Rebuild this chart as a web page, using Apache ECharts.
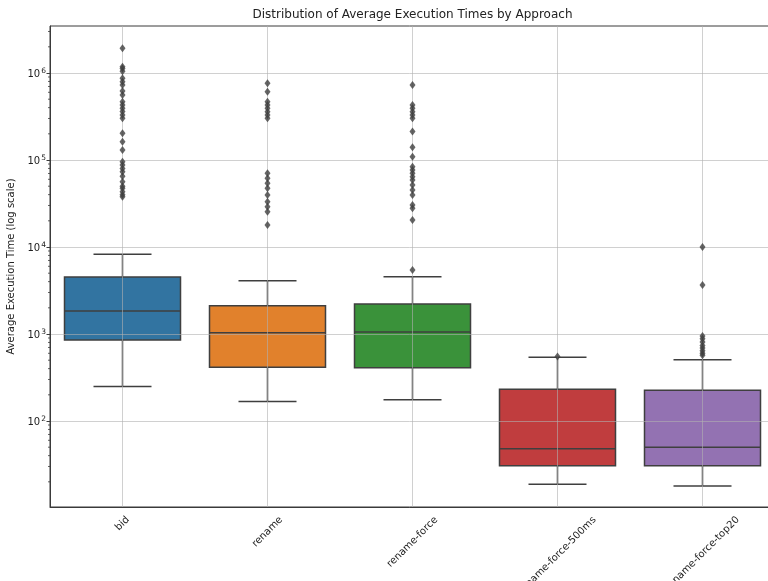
<!DOCTYPE html>
<html><head><meta charset="utf-8">
<script src="https://cdn.jsdelivr.net/npm/echarts@6/dist/echarts.min.js"></script>
<style>html,body{margin:0;padding:0;background:#fff}#c{width:768px;height:581px}</style>
</head><body><div id="c"></div>
<script>
// ---- data ----
const categories = ['bid', 'rename', 'rename-force', 'rename-force-500ms', 'rename-force-top20'];
const whiskerLow  = [250, 168, 176, 18.7, 17.9];
const q1          = [854, 414, 410, 30.6, 30.6];
const median      = [1840, 1035, 1055, 48.1, 49.8];
const q3          = [4520, 2115, 2213, 231, 225];
const whiskerHigh = [8240, 4100, 4560, 540, 507];

const outliersBid = [1.92e6, 1.18e6, 1.13e6, 1.05e6, 8.7e5, 7.94e5, 7.28e5, 6.2e5, 5.59e5, 4.68e5, 4.29e5, 3.93e5, 3.6e5, 3.29e5, 3.01e5, 2.03e5, 1.62e5, 1.30e5, 9.55e4, 8.77e4, 8.0e4, 7.34e4, 6.5e4, 5.63e4, 5.0e4, 4.73e4, 4.32e4, 4.0e4, 3.79e4];
const outliersRename = [7.62e5, 6.1e5, 4.68e5, 4.29e5, 3.93e5, 3.59e5, 3.29e5, 3.01e5, 7.03e4, 6.16e4, 5.40e4, 4.73e4, 3.96e4, 3.32e4, 2.90e4, 2.55e4, 1.79e4];
const outliersRenameForce = [7.28e5, 4.29e5, 3.93e5, 3.59e5, 3.29e5, 3.01e5, 2.12e5, 1.40e5, 1.09e5, 8.38e4, 7.67e4, 7.03e4, 6.43e4, 5.89e4, 5.16e4, 4.52e4, 3.96e4, 3.04e4, 2.79e4, 2.04e4, 5440];
const outlier500ms = [550];
const outliersTop20 = [1.0e4, 3660, 950, 880, 810, 740, 690, 640, 600, 570];

const yMajorTicks = [100, 1000, 10000, 100000, 1000000];
const minorMantissas = [2, 3, 4, 5, 6, 7, 8, 9];
const minorDecades = [10, 100, 1000, 10000, 100000, 1000000];

const colors = ['#3274a1', '#e1812c', '#3a923a', '#c03d3e', '#9372b2'];
const titleText = 'Distribution of Average Execution Times by Approach';
const yName = 'Average Execution Time (log scale)';

// ---- build ----
const FONT = 'DejaVu Sans';
const lineCol = '#3f3f3f';
const gridCol = 'rgba(176,176,176,0.6)';
const allOutliers = [outliersBid, outliersRename, outliersRenameForce, outlier500ms, outliersTop20];
const boxData = categories.map((c, i) => [i, whiskerLow[i], q1[i], median[i], q3[i], whiskerHigh[i]]);
const outlierData = [];
allOutliers.forEach((arr, i) => arr.forEach(v => outlierData.push([i, v])));
const minorData = [];
minorDecades.forEach(d => minorMantissas.forEach(m => minorData.push([0, d * m])));

const ctx = document.createElement('canvas').getContext('2d');
function tw(t, size) { ctx.font = size + 'px "' + FONT + '"'; return ctx.measureText(t).width; }

const rich = {};
categories.forEach((c, i) => {
  const p = (tw(c, 10) + 12) / 2;
  rich['l' + i] = { padding: [p, p, 0, 0], fontSize: 10, fontFamily: FONT, color: '#222' };
});

const plotLeft = 50, plotTop = 26, plotW = 725, plotBottom = 507;
const titleW = tw(titleText, 12);

const chart = echarts.init(document.getElementById('c'));
chart.setOption({
  animation: false,
  backgroundColor: '#fff',
  title: {
    text: titleText, left: plotLeft + plotW / 2 - titleW / 2, top: 9, padding: 0,
    textStyle: { fontSize: 12, fontWeight: 'normal', fontFamily: FONT, color: '#222' }
  },
  grid: { left: plotLeft, top: plotTop, width: plotW, bottom: 581 - plotBottom, containLabel: false, outerBoundsMode: 'none', show: true, borderColor: '#3a3a3a', borderWidth: 1, backgroundColor: '#fff' },
  xAxis: {
    type: 'category', data: categories, z: 2,
    axisLine: { lineStyle: { color: '#3a3a3a', width: 1 } },
    axisTick: { alignWithLabel: true, length: 3.5, lineStyle: { color: '#3a3a3a' } },
    splitLine: { show: true, alignWithLabel: true, lineStyle: { color: gridCol, width: 1 } },
    axisLabel: {
      interval: 0, rotate: 45, align: 'center', verticalAlign: 'middle', margin: 7,
      formatter: (v, i) => '{l' + i + '|' + v + '}', rich: rich
    }
  },
  yAxis: {
    type: 'log', logBase: 10, min: 10.27, max: 3.47e6, z: 2,
    name: yName, nameLocation: 'middle', nameGap: 31,
    nameTextStyle: { fontSize: 10, fontFamily: FONT, color: '#222' },
    axisLine: { show: true, lineStyle: { color: '#3a3a3a', width: 1 } },
    axisTick: { show: true, length: 3.5, customValues: yMajorTicks, lineStyle: { color: '#3a3a3a' } },
    axisLabel: {
      customValues: yMajorTicks, margin: 4,
      fontSize: 10, fontFamily: FONT, color: '#222',
      rich: {
        b: { fontSize: 10, fontFamily: FONT, color: '#222', verticalAlign: 'bottom' },
        s: { fontSize: 7.5, fontFamily: FONT, color: '#222', verticalAlign: 'top', padding: [0, 0, 4, 1] }
      },
      formatter: v => {
        const e = Math.log10(v), r = Math.round(e);
        if (Math.abs(e - r) > 1e-6) return '';
        return '{b|10}{s|' + r + '}';
      }
    },
    splitLine: { show: true, lineStyle: { color: gridCol, width: 1 } }
  },
  series: [
    {
      type: 'custom', z: 1, data: boxData,
      renderItem: (params, api) => {
        const i = api.value(0);
        const cs = params.coordSys;
        const band = cs.width / categories.length;
        const bw = band * 0.8;
        const lo = api.coord([i, api.value(1)]);
        const a = api.coord([i, api.value(2)]);
        const m = api.coord([i, api.value(3)]);
        const b = api.coord([i, api.value(4)]);
        const hi = api.coord([i, api.value(5)]);
        const x = lo[0];
        const st = { stroke: lineCol, lineWidth: 1.5 };
        return { type: 'group', children: [
          { type: 'line', shape: { x1: x, y1: lo[1], x2: x, y2: a[1] }, style: st },
          { type: 'line', shape: { x1: x, y1: b[1], x2: x, y2: hi[1] }, style: st },
          { type: 'line', shape: { x1: x - bw / 4, y1: lo[1], x2: x + bw / 4, y2: lo[1] }, style: st },
          { type: 'line', shape: { x1: x - bw / 4, y1: hi[1], x2: x + bw / 4, y2: hi[1] }, style: st },
          { type: 'rect', shape: { x: x - bw / 2, y: b[1], width: bw, height: a[1] - b[1] }, style: { fill: colors[i], stroke: lineCol, lineWidth: 1.5 } },
          { type: 'line', shape: { x1: x - bw / 2, y1: m[1], x2: x + bw / 2, y2: m[1] }, style: st }
        ] };
      }
    },
    {
      type: 'scatter', z: 3, data: outlierData, symbol: 'diamond', symbolSize: [6, 8],
      itemStyle: { color: lineCol }
    },
    {
      type: 'custom', z: 3, data: minorData, silent: true,
      renderItem: (params, api) => {
        const cs = params.coordSys;
        const y = api.coord([0, api.value(1)])[1];
        if (y < cs.y || y > cs.y + cs.height) return null;
        return { type: 'line', shape: { x1: cs.x - 2, y1: y, x2: cs.x, y2: y }, style: { stroke: '#3a3a3a', lineWidth: 0.8 } };
      }
    }
  ]
});
</script></body></html>
